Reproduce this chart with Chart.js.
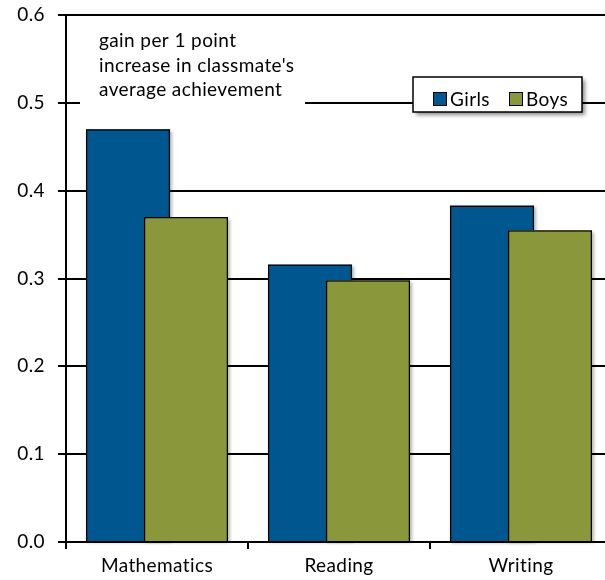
<!DOCTYPE html>
<html>
<head>
<meta charset="utf-8">
<script src="https://cdn.jsdelivr.net/npm/chart.js@4/dist/chart.umd.min.js"></script>
<style>
  html, body { margin: 0; padding: 0; background: #fff; overflow: hidden; }
  #wrap { width: 605px; height: 580px; overflow: hidden; }
  canvas { display: block; }
</style>
</head>
<body>
<div id="wrap"><canvas id="c" width="615" height="580"></canvas></div>
<script>
// Peer effect on test-score gains, by subject and sex
const subjects = ['Mathematics', 'Reading', 'Writing'];
const girls = [0.470, 0.316, 0.383];
const boys = [0.370, 0.298, 0.355];
const yTicks = [0.0, 0.1, 0.2, 0.3, 0.4, 0.5, 0.6];
const noteLines = ['gain per 1 point', "increase in classmate's", 'average achievement'];

const FONT_FAMILY = 'Lato, "Noto Sans", sans-serif';
const FONT_SIZE = 19;
const LETTER_SPACING = '0.4px';
const BLUE = '#00568f';
const OLIVE = '#8a983b';

// Slightly open letter spacing for all canvas text (also avoids Lato's "ti" ligature)
const textSpacing = {
  id: 'textSpacing',
  beforeDraw(chart) { chart.ctx.letterSpacing = LETTER_SPACING; }
};

// Bars get a soft drop shadow; the second series is painted over the first where they overlap
const barPainter = {
  id: 'barPainter',
  beforeDatasetsDraw(chart) {
    const ctx = chart.ctx;
    chart.data.datasets.forEach((ds, i) => {
      const meta = chart.getDatasetMeta(i);
      ctx.save();
      ctx.shadowColor = 'rgba(0,0,0,0.3)';
      ctx.shadowBlur = 3;
      ctx.shadowOffsetX = 1.5;
      ctx.shadowOffsetY = 1.5;
      ctx.fillStyle = ds.backgroundColor;
      meta.data.forEach(bar => {
        const p = bar.getProps(['x', 'y', 'base', 'width'], true);
        ctx.fillRect(p.x - p.width / 2, p.y, p.width, p.base - p.y);
      });
      ctx.restore();
      meta.controller.draw();
    });
    return false;
  }
};

// Explanatory note and boxed legend inside the plot
const annotations = {
  id: 'annotations',
  afterDraw(chart) {
    const ctx = chart.ctx;
    ctx.save();
    ctx.letterSpacing = LETTER_SPACING;
    // note
    ctx.fillStyle = '#fff';
    ctx.fillRect(80, 22, 225, 88);
    ctx.fillStyle = '#000';
    ctx.font = FONT_SIZE + 'px ' + FONT_FAMILY;
    ctx.textBaseline = 'alphabetic';
    ctx.textAlign = 'left';
    noteLines.forEach((t, i) => ctx.fillText(t, 99, 47 + i * 24.5));

    // legend box
    const bx = 413, by = 77, bw = 169, bh = 35;
    ctx.save();
    ctx.shadowColor = 'rgba(0,0,0,0.45)';
    ctx.shadowBlur = 4;
    ctx.shadowOffsetX = 3;
    ctx.shadowOffsetY = 3;
    ctx.fillStyle = '#fff';
    ctx.fillRect(bx, by, bw, bh);
    ctx.restore();
    ctx.strokeStyle = '#000';
    ctx.lineWidth = 1.5;
    ctx.strokeRect(bx, by, bw, bh);

    const items = [
      { x: 433, tx: 450 },
      { x: 509, tx: 526 }
    ];
    chart.data.datasets.forEach((ds, i) => {
      const it = items[i];
      ctx.fillStyle = ds.backgroundColor;
      ctx.fillRect(it.x, 92, 14, 14);
      ctx.lineWidth = 1;
      ctx.strokeStyle = '#000';
      ctx.strokeRect(it.x + 0.5, 92.5, 13, 13);
      ctx.fillStyle = '#000';
      ctx.textBaseline = 'middle';
      ctx.fillText(ds.label, it.tx, 99.5);
    });
    ctx.restore();
  }
};

new Chart(document.getElementById('c'), {
  type: 'bar',
  data: {
    labels: subjects,
    datasets: [
      { label: 'Girls', data: girls, backgroundColor: BLUE, borderColor: '#000', borderWidth: 1.5 },
      { label: 'Boys', data: boys, backgroundColor: OLIVE, borderColor: '#000', borderWidth: 1.5 }
    ]
  },
  options: {
    responsive: false,
    animation: false,
    devicePixelRatio: 1,
    categoryPercentage: 0.637,
    barPercentage: 1.45,
    layout: { padding: { top: 15, right: 3, left: 0, bottom: 0 } },
    plugins: {
      legend: { display: false },
      tooltip: { enabled: false }
    },
    scales: {
      x: {
        offset: true,
        grid: {
          display: true,
          offset: true,
          drawOnChartArea: false,
          drawTicks: true,
          tickLength: 7,
          color: '#000',
          lineWidth: 2
        },
        border: { display: true, color: '#000', width: 2 },
        ticks: {
          color: '#000',
          padding: 5,
          maxRotation: 0,
          font: { family: FONT_FAMILY, size: FONT_SIZE }
        },
        afterFit(scale) {
          scale.height = 38;
          scale.paddingLeft = 0;
          scale.paddingRight = 0;
        }
      },
      y: {
        min: yTicks[0],
        max: yTicks[yTicks.length - 1],
        afterBuildTicks(scale) { scale.ticks = yTicks.map(v => ({ value: v })); },
        grid: {
          color: '#000',
          lineWidth: 2,
          drawTicks: true,
          tickLength: 8
        },
        border: { display: true, color: '#000', width: 2 },
        ticks: {
          color: '#000',
          padding: 13,
          font: { family: FONT_FAMILY, size: FONT_SIZE },
          callback: v => Number(v).toFixed(1)
        },
        afterFit(scale) {
          scale.width = 66;
          scale.paddingTop = 0;
          scale.paddingBottom = 0;
        }
      }
    }
  },
  plugins: [textSpacing, barPainter, annotations]
});
</script>
</body>
</html>
